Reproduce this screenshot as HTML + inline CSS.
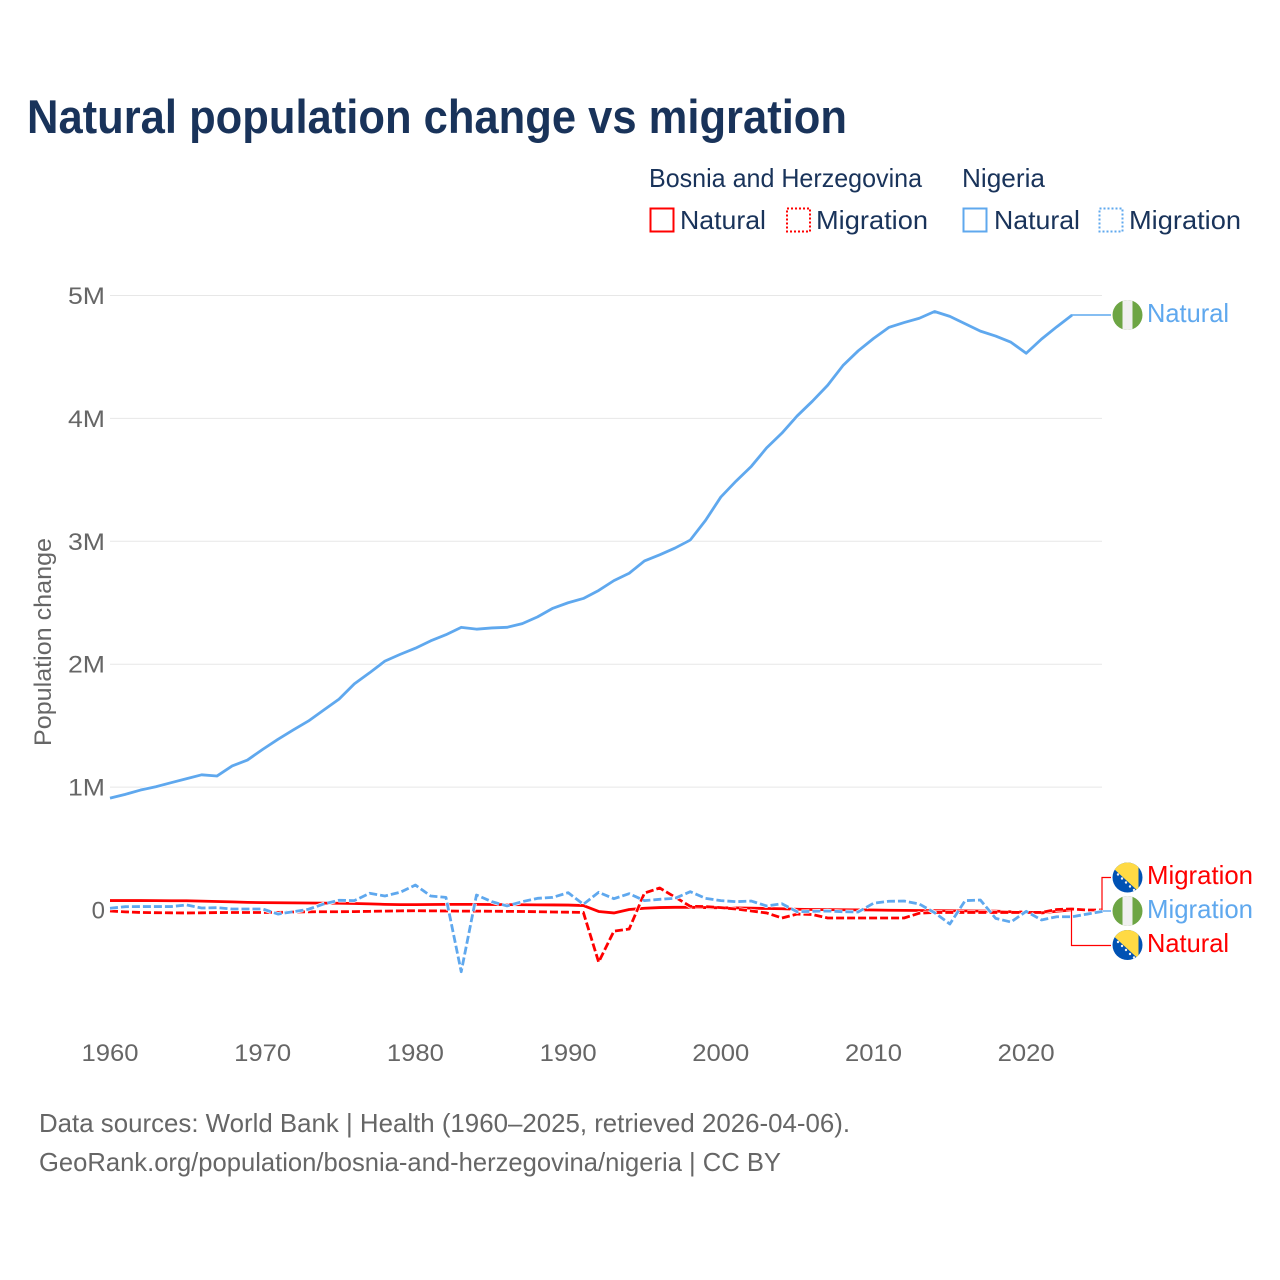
<!DOCTYPE html>
<html lang="en">
<head>
<meta charset="utf-8">
<title>Natural population change vs migration</title>
<style>
  html, body { margin: 0; padding: 0; background: #fff; }
  svg { display: block; font-family: "Liberation Sans", sans-serif; }
</style>
</head>
<body>
<svg id="chart" xmlns="http://www.w3.org/2000/svg" width="1280" height="1280" viewBox="0 0 1280 1280">
  <defs>
    <clipPath id="flag-clip"><circle cx="0" cy="0" r="15"/></clipPath>
    <g id="flag-ng">
      <g clip-path="url(#flag-clip)">
        <rect x="-15" y="-15" width="30" height="30" fill="#6da544"/>
        <rect x="-5" y="-15" width="10" height="30" fill="#f0f0f0"/>
      </g>
    </g>
    <g id="flag-ba">
      <g clip-path="url(#flag-clip)">
        <rect x="-15" y="-15" width="30" height="30" fill="#0052b4"/>
        <polygon points="-14,-9 -8,-15 11,-15 11,14" fill="#ffda44"/>
        <circle cx="-9.5" cy="-3" r="1.2" fill="#f0f0f0"/>
        <circle cx="-5.5" cy="1" r="1.2" fill="#f0f0f0"/>
        <circle cx="-1.5" cy="5" r="1.2" fill="#f0f0f0"/>
        <circle cx="2.5" cy="9" r="1.2" fill="#f0f0f0"/>
        <circle cx="6.5" cy="12.5" r="1.2" fill="#f0f0f0"/>
      </g>
    </g>
  </defs>

  <rect x="0" y="0" width="1280" height="1280" fill="#fff"/>

  <text x="27" y="133" font-size="47" font-weight="700" fill="#19335a" textLength="820" lengthAdjust="spacingAndGlyphs">Natural population change vs migration</text>

  <g font-size="26" fill="#19335a">
    <text x="649" y="187" textLength="273" lengthAdjust="spacingAndGlyphs">Bosnia and Herzegovina</text>
    <text x="962" y="187" textLength="83" lengthAdjust="spacingAndGlyphs">Nigeria</text>
    <rect x="650.5" y="208.5" width="23" height="23" fill="none" stroke="#ff0000" stroke-width="2"/>
    <text x="680" y="229" textLength="86" lengthAdjust="spacingAndGlyphs">Natural</text>
    <rect x="787" y="208.5" width="23" height="23" fill="none" stroke="#ff0000" stroke-width="2" stroke-dasharray="2 2"/>
    <text x="816" y="229" textLength="112" lengthAdjust="spacingAndGlyphs">Migration</text>
    <rect x="963.5" y="208.5" width="23" height="23" fill="none" stroke="#5fa8ee" stroke-width="2"/>
    <text x="994" y="229" textLength="86" lengthAdjust="spacingAndGlyphs">Natural</text>
    <rect x="1099.5" y="208.5" width="23" height="23" fill="none" stroke="#5fa8ee" stroke-width="2" stroke-dasharray="2 2"/>
    <text x="1129" y="229" textLength="112" lengthAdjust="spacingAndGlyphs">Migration</text>
  </g>

  <g id="grid"></g>
  <g id="y-ticks" font-size="24" fill="#666"></g>
  <g id="x-ticks" font-size="24" fill="#666"></g>
  <text transform="translate(51 746) rotate(-90)" font-size="24" fill="#666" textLength="208" lengthAdjust="spacingAndGlyphs">Population change</text>

  <g id="series"></g>

  <g>
    <path d="M1071 315H1111" fill="none" stroke="#5fa8ee" stroke-width="1.4"/>
    <path d="M1102 910V877.5H1111" fill="none" stroke="#ff0000" stroke-width="1.2"/>
    <path d="M1103 911H1111" fill="none" stroke="#5fa8ee" stroke-width="1.4"/>
    <path d="M1071.5 910V945.5H1111" fill="none" stroke="#ff0000" stroke-width="1.2"/>

    <use href="#flag-ng" x="1127.5" y="315"/>
    <use href="#flag-ba" x="1127.5" y="877.5"/>
    <use href="#flag-ng" x="1127.5" y="911"/>
    <use href="#flag-ba" x="1127.5" y="945"/>

    <g font-size="26">
      <text x="1147" y="322" fill="#5fa8ee" textLength="82" lengthAdjust="spacingAndGlyphs">Natural</text>
      <text x="1147" y="884" fill="#ff0000" textLength="106" lengthAdjust="spacingAndGlyphs">Migration</text>
      <text x="1147" y="918" fill="#5fa8ee" textLength="106" lengthAdjust="spacingAndGlyphs">Migration</text>
      <text x="1147" y="952" fill="#ff0000" textLength="82" lengthAdjust="spacingAndGlyphs">Natural</text>
    </g>
  </g>

  <g font-size="26" fill="#666">
    <text x="39" y="1132" textLength="811" lengthAdjust="spacingAndGlyphs">Data sources: World Bank | Health (1960–2025, retrieved 2026-04-06).</text>
    <text x="39" y="1171" textLength="742" lengthAdjust="spacingAndGlyphs">GeoRank.org/population/bosnia-and-herzegovina/nigeria | CC BY</text>
  </g>
</svg>

<script>
// Chart data (population change, in thousands of people). First year is 1960.
const startYear = 1960;
const xTickYears = [1960, 1970, 1980, 1990, 2000, 2010, 2020];
const yTickValues = [0, 1000, 2000, 3000, 4000, 5000];
const yTickLabels = ["0", "1M", "2M", "3M", "4M", "5M"];

const bosniaNatural = [
  77, 77, 77, 76, 75, 75, 72, 69, 66, 62,
  60, 59, 58, 57, 56, 55, 53, 50, 46, 44,
  44, 45, 46, 46, 46, 45, 44, 43, 42, 41,
  40, 36, -12, -24, 4, 14, 20, 22, 22, 20,
  18, 17, 15, 12, 10, 6, 4, 3, 2, 1,
  0, -2, -3, -4, -5, -6, -7, -8, -9, -14,
  -17, -24, -10, 0
];
const bosniaMigration = [
  -8, -15, -20, -22, -23, -24, -23, -21, -20, -20,
  -20, -19, -16, -15, -14, -14, -13, -11, -9, -7,
  -6, -7, -8, -9, -9, -10, -11, -12, -14, -16,
  -18, -20, -424, -172, -155, 138, 179, 105, 30, 28,
  19, 8, -8, -24, -65, -33, -37, -65, -65, -65,
  -65, -65, -65, -26, -20, -20, -20, -20, -20, -20,
  -20, -20, 4, 8, 0, 0
];
const nigeriaNatural = [
  910, 941, 976, 1003, 1036, 1068, 1100, 1090, 1172, 1220,
  1307, 1389, 1465, 1538, 1627, 1716, 1840, 1930, 2025, 2080,
  2130, 2190, 2240, 2300, 2285, 2295, 2300, 2330, 2385, 2455,
  2500, 2535, 2600, 2680, 2740, 2840, 2890, 2945, 3010, 3170,
  3360, 3490, 3610, 3760, 3880, 4020, 4140, 4270, 4430, 4550,
  4650, 4740, 4780, 4815, 4870, 4830, 4770, 4710, 4670, 4620,
  4530, 4645, 4745, 4840
];
const nigeriaMigration = [
  14, 27, 28, 28, 28, 41, 16, 19, 8, 8,
  8, -33, -14, 6, 49, 79, 76, 136, 114, 144,
  203, 114, 103, -502, 122, 68, 33, 68, 95, 103,
  141, 46, 144, 92, 133, 76, 87, 95, 149, 95,
  76, 68, 73, 33, 51, -14, -11, -8, -14, -16,
  55, 71, 73, 49, -22, -114, 76, 81, -68, -98,
  -11, -81, -55, -55, -33, -11
];

const NS = "http://www.w3.org/2000/svg";
const xScale = function (year) { return 110 + (year - 1960) * 15.27; };
const yScale = function (value) { return 910 - value * 0.1229; };

const gridGroup = document.getElementById("grid");
const yTickGroup = document.getElementById("y-ticks");
const xTickGroup = document.getElementById("x-ticks");
const seriesGroup = document.getElementById("series");

yTickValues.forEach(function (value, i) {
  const y = yScale(value);
  if (value !== 0) {
    const line = document.createElementNS(NS, "line");
    
    
    line.setAttribute("x1", 110);
    line.setAttribute("x2", 1102);
    line.setAttribute("y1", y);
    line.setAttribute("y2", y);
    line.setAttribute("stroke", "#e7e7e7");
    line.setAttribute("stroke-width", "1");
    gridGroup.appendChild(line);
  }
  const label = document.createElementNS(NS, "text");
  
  
  label.setAttribute("x", 105);
  label.setAttribute("y", y + 8.5);
  label.setAttribute("text-anchor", "end");
  label.textContent = yTickLabels[i];
  if (value !== 0) {
    label.setAttribute("textLength", "37");
    label.setAttribute("lengthAdjust", "spacingAndGlyphs");
  }
  yTickGroup.appendChild(label);
});

xTickYears.forEach(function (year) {
  const label = document.createElementNS(NS, "text");
  
  
  label.setAttribute("x", xScale(year));
  label.setAttribute("y", 1061);
  label.setAttribute("text-anchor", "middle");
  label.setAttribute("textLength", "57");
  label.setAttribute("lengthAdjust", "spacingAndGlyphs");
  label.textContent = String(year);
  xTickGroup.appendChild(label);
});

function pathFor(values) {
  return values.map(function (value, i) {
    return (i === 0 ? "M" : "L") + xScale(startYear + i).toFixed(2) + " " + yScale(value).toFixed(2);
  }).join("");
}

function drawLine(values, color, dashed, name) {
  const halo = document.createElementNS(NS, "path");
  
  
  halo.setAttribute("d", pathFor(values));
  halo.setAttribute("fill", "none");
  halo.setAttribute("stroke", "#ffffff");
  halo.setAttribute("stroke-width", "4.2");
  halo.setAttribute("stroke-linejoin", "round");
  if (dashed) {
    halo.setAttribute("stroke-dasharray", "8 3");
  }
  seriesGroup.appendChild(halo);

  const path = document.createElementNS(NS, "path");
  
  
  path.setAttribute("d", pathFor(values));
  path.setAttribute("fill", "none");
  path.setAttribute("stroke", color);
  path.setAttribute("stroke-width", "2.8");
  path.setAttribute("stroke-linejoin", "round");
  if (dashed) {
    path.setAttribute("stroke-dasharray", "8 3");
  }
  seriesGroup.appendChild(path);
}

drawLine(bosniaNatural, "#ff0000", false, "line-bosnia-natural");
drawLine(bosniaMigration, "#ff0000", true, "line-bosnia-migration");
drawLine(nigeriaNatural, "#5fa8ee", false, "line-nigeria-natural");
drawLine(nigeriaMigration, "#5fa8ee", true, "line-nigeria-migration");
</script>
</body>
</html>
